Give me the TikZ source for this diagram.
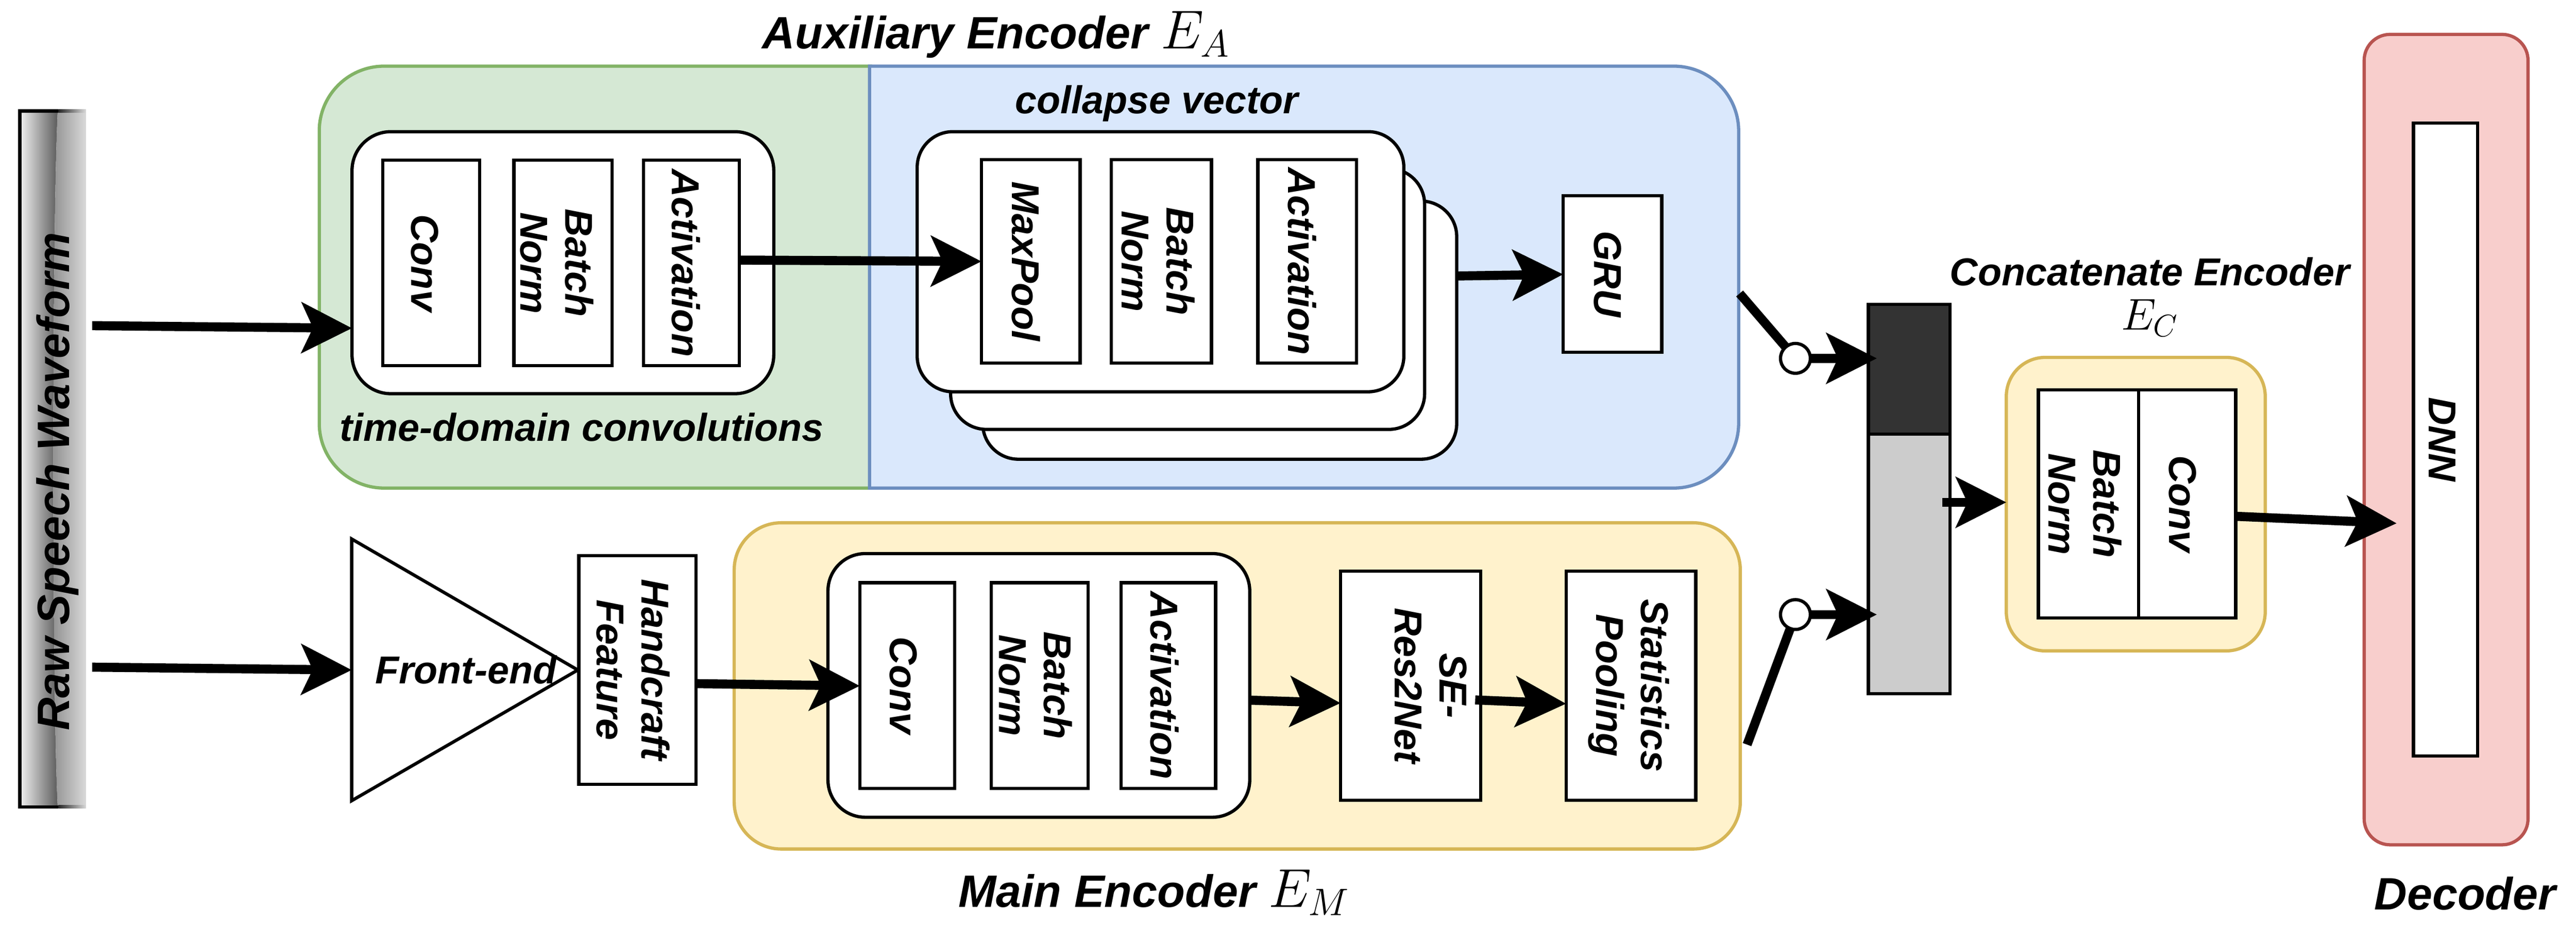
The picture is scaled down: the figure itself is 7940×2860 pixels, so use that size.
\RequirePackage{fix-cm}
\documentclass[tikz,border=0pt]{standalone}
\usepackage{fontspec}
\usetikzlibrary{arrows.meta}
\newfontfamily\hv{Liberation Sans}
\newcommand\lblfont{\hv\bfseries\itshape\fontsize{34.1}{39.3}\selectfont}
\newcommand\ttlfont{\hv\bfseries\itshape\fontsize{39.8}{46}\selectfont}
\newcommand\mthA{\fontsize{48}{52}\selectfont}
\newcommand\mthB{\fontsize{39}{44}\selectfont}
\definecolor{grnF}{HTML}{D5E8D4}
\definecolor{grnD}{HTML}{82B366}
\definecolor{bluF}{HTML}{DAE8FC}
\definecolor{bluD}{HTML}{6C8EBF}
\definecolor{ylwF}{HTML}{FFF2CC}
\definecolor{ylwD}{HTML}{D6B656}
\definecolor{redF}{HTML}{F8CECC}
\definecolor{redD}{HTML}{B85450}
\definecolor{vdark}{HTML}{333333}
\definecolor{vlight}{HTML}{CCCCCC}
\definecolor{rawA}{HTML}{F2F2F2}
\definecolor{rawB}{HTML}{5C5C5C}
\definecolor{rawC}{HTML}{8F8F8F}
\definecolor{rawD}{HTML}{D9D9D9}
\newcommand\bx[6]{\node[#2, minimum width={(#5-#3)*0.1mm}, minimum height={(#6-#4)*0.1mm}] (#1) at ({(#3+#5)/2},{(#4+#6)/2}) {};}
\tikzset{
  base/.style={inner sep=0pt, outer sep=0pt},
  blk/.style={base, draw=black, line width=1mm, fill=white},
  rblk/.style={blk, rounded corners=12mm},
  arr/.style={line width=2.8mm, -{Stealth[length=15.5mm, width=15.5mm, inset=3.5mm]}},
  thk/.style={line width=2.8mm},
  lbl/.style={rotate=-90, font=\lblfont, align=center, inner sep=0pt},
  txt/.style={font=\lblfont, inner sep=0pt},
  ttl/.style={font=\ttlfont, inner sep=0pt},
  sw/.style={circle, draw, line width=1mm, fill=white, minimum size=9.2mm, inner sep=0pt, outer sep=0pt},
}
\begin{document}
\begin{tikzpicture}[x=0.1mm, y=-0.1mm]
\useasboundingbox (0,0) rectangle (7940,2860);

% ---------- Raw speech waveform ----------
\bx{raw}{base}{56}{337}{265}{2493}
\shade[left color=rawA, right color=rawB] (61,342) -- (178,342) .. controls (160,700) and (160,2150) .. (178,2488) -- (61,2488) -- cycle;
\shade[left color=rawC, right color=rawD] (178,337) .. controls (160,700) and (160,2150) .. (178,2493) -- (265,2493) -- (265,337) -- cycle;
\draw[line width=1mm] (180,342) -- (61,342) -- (61,2488) -- (180,2488);
\shade[left color=black!85, right color=rawD] (180,337) rectangle (265,347);
\shade[left color=black!85, right color=rawD] (180,2483) rectangle (265,2493);
\node[ttl, rotate=90, anchor=base] (rawt) at (214,1485) {Raw Speech Waveform};

% ---------- Auxiliary encoder ----------
\draw[draw=grnD, fill=grnF, line width=1mm] (2683,204) -- (1184,204) arc[start angle=90, end angle=180, radius=20mm] -- (984,1305) arc[start angle=180, end angle=270, radius=20mm] -- (2683,1505) -- cycle;
\draw[draw=bluD, fill=bluF, line width=1mm] (2680,204) -- (5159,204) arc[start angle=90, end angle=0, radius=20mm] -- (5359,1305) arc[start angle=0, end angle=-90, radius=20mm] -- (2680,1505) -- cycle;
\node[ttl, anchor=base west] (auxt) at (2349,150) {Auxiliary Encoder {\mthA$E_A$}};

\bx{tdc}{rblk}{1085}{406}{2385}{1214}
\bx{convA}{blk}{1180}{494}{1478}{1128}
\bx{bnA}{blk}{1584}{494}{1886}{1128}
\bx{actA}{blk}{1983}{494}{2279}{1128}
\node[lbl] (convAt) at (1309,811) {Conv};
\node[lbl] (bnAt) at (1716,811) {Batch\\Norm};
\node[lbl] (actAt) at (2115,811) {Activation};
\node[txt, anchor=base] (tdct) at (1793,1360) {time-domain convolutions};

\bx{stk3}{blk, rounded corners=11mm}{3029}{620}{4490}{1416}
\bx{stk2}{blk, rounded corners=11mm}{2930}{520}{4391}{1324}
\bx{stk1}{blk, rounded corners=11mm}{2827}{406}{4327}{1208}
\bx{mp}{blk}{3025}{492}{3329}{1119}
\bx{bnB}{blk}{3425}{492}{3734}{1119}
\bx{actB}{blk}{3877}{492}{4181}{1119}
\node[lbl] (mpt) at (3162,806) {MaxPool};
\node[lbl] (bnBt) at (3569,806) {Batch\\Norm};
\node[lbl] (actBt) at (4013,806) {Activation};
\node[txt, anchor=base] (colt) at (3565,350) {collapse vector};

\bx{gru}{blk}{4818}{603}{5122}{1086}
\node[lbl] (grut) at (4956,845) {GRU};

% ---------- Main encoder ----------
\draw[line width=1mm, fill=white] (1084,1662) -- (1781,2066) -- (1084,2469) -- cycle;
\coordinate (feL) at (1084,2066);
\node[txt, anchor=base] (fet) at (1436,2108) {Front-end};
\bx{hc}{blk}{1784}{1713}{2145}{2418}
\node[lbl] (hct) at (1951,2066) {Handcraft\\Feature};

\bx{menc}{base, draw=ylwD, fill=ylwF, line width=1mm, rounded corners=14.5mm}{2263}{1612}{5364}{2618}
\bx{mblk}{rblk, rounded corners=11.5mm}{2552}{1707}{3852}{2520}
\bx{mconv}{blk}{2650}{1797}{2943}{2431}
\bx{bnC}{blk}{3055}{1797}{3354}{2431}
\bx{actC}{blk}{3455}{1797}{3747}{2431}
\node[lbl] (mconvt) at (2784,2114) {Conv};
\node[lbl] (bnCt) at (3192,2114) {Batch\\Norm};
\node[lbl] (actCt) at (3589,2114) {Activation};
\bx{se}{blk}{4132}{1761}{4564}{2468}
\bx{sp}{blk}{4827}{1761}{5227}{2468}
\node[lbl] (set) at (4410,2114) {SE-\\Res2Net};
\node[lbl] (spt) at (5020,2114) {Statistics\\Pooling};
\node[ttl, anchor=base west] (maint) at (2953,2798) {Main Encoder {\mthA$E_M$}};

% ---------- Concatenation ----------
\bx{dark}{base, draw, line width=1mm, fill=vdark}{5759}{938}{6011}{1339}
\bx{light}{base, draw, line width=1mm, fill=vlight}{5759}{1339}{6011}{2139}
\node[sw] (c1) at (5534,1105) {};
\node[sw] (c2) at (5534,1895) {};
\coordinate (sa1) at (5362,905);
\coordinate (sa2) at (5385,2296);

\bx{cenc}{base, draw=ylwD, fill=ylwF, line width=1mm, rounded corners=12mm}{6184}{1102}{6982}{2007}
\bx{cbn}{blk}{6283}{1202}{6592}{1906}
\bx{cconv}{blk}{6592}{1202}{6891}{1906}
\node[lbl] (cbnt) at (6427,1554) {Batch\\Norm};
\node[lbl] (cconvt) at (6728,1554) {Conv};
\node[txt, anchor=base] (cenct) at (6626,880) {Concatenate Encoder};
\node[anchor=base, inner sep=0pt] (ecT) at (6626,1017) {\mthB$E_C$};

% ---------- Decoder ----------
\bx{dec}{base, draw=redD, fill=redF, line width=1mm, rounded corners=8mm}{7287}{106}{7792}{2605}
\bx{dnn}{blk}{7439}{379}{7637}{2331}
\node[lbl] (dnnt) at (7527,1355) {DNN};
\node[ttl, anchor=base] (dect) at (7598,2805) {Decoder};

% ---------- Connectors ----------
\draw[arr, shorten <=1.9mm] (raw.east |- 0,1004) -- (tdc.west |- 0,1012);
\draw[arr, shorten <=1.9mm] (raw.east |- 0,2057) -- (feL);
\draw[arr] (actA.east |- 0,802) -- (mp.west |- 0,806);
\draw[arr] (stk3.east |- 0,851) -- (gru.west |- 0,846);
\draw[arr] (hc.east |- 0,2108) -- (mconv.west |- 0,2115);
\draw[arr] (mblk.east |- 0,2159) -- (se.west |- 0,2168);
\draw[arr, shorten <=-1.7mm] (se.east |- 0,2159) -- (sp.west |- 0,2170);
\draw[thk] (sa1) -- (c1);
\draw[thk] (sa2) -- (c2);
\draw[arr, shorten >=-2.6mm] (c1.east) -- (dark.west |- c1.east);
\draw[arr, shorten >=-2.6mm] (c2.east) -- (light.west |- c2.east);
\draw[arr, shorten <=-2.5mm] (light.east |- 0,1549) -- (cenc.west |- 0,1549);
\draw[arr, shorten >=5.2mm] (cconv.east |- 0,1592) -- (dnn.west |- 0,1616);
\end{tikzpicture}
\end{document}
